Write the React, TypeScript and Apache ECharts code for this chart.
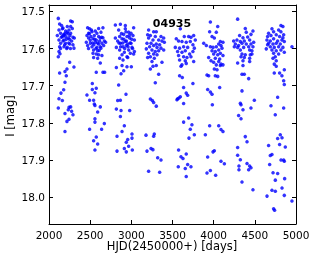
import React, { useEffect, useRef } from "react";
import * as echarts from "echarts";

const xTicks = [2000, 2500, 3000, 3500, 4000, 4500, 5000];
const yTicks = [17.5, 17.6, 17.7, 17.8, 17.9, 18.0];
const starId = "04935";

const season1: [number, number][] = [
  [2113, 17.519], [2263, 17.526], [2283, 17.528], [2129, 17.534], [2153, 17.538], [2222, 17.541], [2263, 17.541],
  [2283, 17.546], [2121, 17.55], [2162, 17.547], [2202, 17.553], [2243, 17.55], [2141, 17.559], [2182, 17.562],
  [2222, 17.556], [2263, 17.559], [2101, 17.565], [2162, 17.568], [2202, 17.568], [2291, 17.57], [2307, 17.572],
  [2121, 17.577], [2182, 17.577], [2234, 17.572], [2275, 17.58], [2141, 17.586], [2202, 17.586], [2251, 17.588],
  [2291, 17.59], [2182, 17.595], [2129, 17.595], [2222, 17.597], [2303, 17.599], [2121, 17.608], [2133, 17.614],
  [2113, 17.622], [2150, 17.57], [2170, 17.58], [2195, 17.56], [2210, 17.575], [2240, 17.585], [2255, 17.565],
  [2170, 17.545], [2230, 17.56], [2190, 17.59], [2260, 17.6], [2140, 17.6], [2215, 17.6], [2175, 17.565], [2250, 17.575],
  [2251, 17.637], [2303, 17.65], [2129, 17.666], [2194, 17.662], [2218, 17.655], [2210, 17.673], [2194, 17.691],
  [2178, 17.711], [2145, 17.72], [2121, 17.735], [2162, 17.74], [2113, 17.76], [2243, 17.758], [2263, 17.757],
  [2234, 17.765], [2275, 17.769], [2194, 17.775], [2291, 17.778], [2243, 17.79], [2218, 17.796], [2194, 17.823],
];

const season2: [number, number][] = [
  [2469, 17.544], [2493, 17.547], [2603, 17.546], [2655, 17.544], [2562, 17.553], [2522, 17.555], [2481, 17.559],
  [2582, 17.559], [2631, 17.556], [2461, 17.565], [2510, 17.568], [2550, 17.565], [2603, 17.568], [2655, 17.571],
  [2481, 17.572], [2534, 17.574], [2574, 17.577], [2623, 17.572], [2672, 17.58], [2453, 17.583], [2502, 17.586],
  [2562, 17.583], [2603, 17.588], [2643, 17.586], [2688, 17.583], [2469, 17.592], [2522, 17.595], [2582, 17.597],
  [2623, 17.595], [2664, 17.592], [2542, 17.604], [2591, 17.606], [2631, 17.599], [2534, 17.613], [2574, 17.615],
  [2603, 17.617], [2643, 17.619], [2542, 17.624], [2591, 17.626], [2623, 17.639], [2490, 17.56], [2530, 17.585],
  [2555, 17.575], [2590, 17.585], [2615, 17.58], [2500, 17.578], [2545, 17.59], [2570, 17.6], [2610, 17.605],
  [2480, 17.6], [2640, 17.57], [2515, 17.55],
  [2574, 17.664], [2655, 17.664], [2676, 17.664], [2526, 17.694], [2574, 17.707], [2526, 17.71], [2558, 17.719],
  [2461, 17.725], [2493, 17.739], [2542, 17.739], [2550, 17.749], [2558, 17.753], [2623, 17.757], [2591, 17.771],
  [2558, 17.789], [2558, 17.798], [2672, 17.802], [2493, 17.817], [2639, 17.817], [2574, 17.838], [2542, 17.848],
  [2591, 17.857], [2558, 17.873],
];

const season3: [number, number][] = [
  [2806, 17.537], [2867, 17.535], [2927, 17.538], [2927, 17.547], [3028, 17.544], [2846, 17.55], [2968, 17.556],
  [2996, 17.559], [2907, 17.562], [2806, 17.572], [2858, 17.568], [2947, 17.568], [3020, 17.565], [2887, 17.574],
  [2980, 17.572], [2834, 17.58], [2927, 17.581], [3037, 17.577], [2867, 17.586], [2956, 17.588], [2996, 17.586],
  [2818, 17.597], [2899, 17.595], [2939, 17.592], [3008, 17.597], [2858, 17.604], [2968, 17.604], [3037, 17.608],
  [2915, 17.61], [2988, 17.613], [3028, 17.615], [2887, 17.617], [2947, 17.622], [2858, 17.626], [2899, 17.631],
  [2956, 17.624], [2880, 17.56], [2910, 17.575], [2940, 17.58], [2960, 17.595], [2985, 17.585], [2870, 17.595],
  [2920, 17.6], [2895, 17.585], [2975, 17.565], [3005, 17.575], [2850, 17.585], [3015, 17.6], [2935, 17.555],
  [2818, 17.651], [2887, 17.646], [2947, 17.649], [3000, 17.649], [2907, 17.66], [2875, 17.668], [2846, 17.698],
  [2935, 17.723], [2834, 17.74], [2867, 17.739], [2818, 17.763], [2875, 17.767], [2980, 17.767], [2867, 17.783],
  [2915, 17.808], [2887, 17.823], [2826, 17.836], [3008, 17.83], [3008, 17.841], [2939, 17.852], [2956, 17.845],
  [2967, 17.863], [2915, 17.869], [3012, 17.873], [2826, 17.876], [2939, 17.878],
];

const season4: [number, number][] = [
  [3210, 17.55], [3271, 17.555], [3303, 17.555], [3198, 17.563], [3231, 17.565], [3291, 17.568], [3360, 17.568],
  [3393, 17.572], [3210, 17.572], [3263, 17.577], [3332, 17.577], [3372, 17.58], [3190, 17.586], [3239, 17.586],
  [3303, 17.588], [3344, 17.59], [3401, 17.583], [3222, 17.595], [3271, 17.592], [3312, 17.597], [3360, 17.599],
  [3182, 17.601], [3251, 17.604], [3291, 17.608], [3332, 17.606], [3393, 17.604], [3210, 17.613], [3271, 17.615],
  [3312, 17.617], [3198, 17.624], [3231, 17.622], [3279, 17.626], [3372, 17.637], [3251, 17.635], [3303, 17.646],
  [3231, 17.655], [3263, 17.648], [3332, 17.669],
  [3291, 17.692], [3231, 17.736], [3255, 17.74], [3271, 17.745], [3303, 17.755], [3178, 17.833], [3279, 17.83],
  [3271, 17.836], [3190, 17.876], [3239, 17.869], [3262, 17.872], [3320, 17.894], [3360, 17.9], [3210, 17.93],
  [3344, 17.933],
];

const season5: [number, number][] = [
  [3595, 17.547], [3643, 17.568], [3696, 17.568], [3724, 17.57], [3757, 17.565], [3777, 17.577], [3546, 17.574],
  [3574, 17.58], [3615, 17.581], [3667, 17.583], [3716, 17.581], [3748, 17.59], [3534, 17.597], [3586, 17.599],
  [3635, 17.595], [3684, 17.597], [3765, 17.599], [3562, 17.608], [3615, 17.61], [3655, 17.606], [3708, 17.615],
  [3748, 17.608], [3574, 17.619], [3635, 17.622], [3676, 17.624], [3724, 17.622], [3586, 17.631], [3655, 17.633],
  [3757, 17.635], [3615, 17.644], [3603, 17.648], [3667, 17.64],
  [3586, 17.673], [3619, 17.678], [3748, 17.694], [3635, 17.705], [3562, 17.735], [3578, 17.733], [3595, 17.73],
  [3554, 17.738], [3667, 17.72], [3684, 17.726], [3635, 17.748], [3696, 17.787], [3635, 17.798], [3736, 17.805],
  [3716, 17.817], [3765, 17.832], [3700, 17.841], [3574, 17.873], [3667, 17.884], [3603, 17.891], [3627, 17.896],
  [3570, 17.918], [3684, 17.912], [3724, 17.918], [3655, 17.923], [3667, 17.944],
];

const season6: [number, number][] = [
  [3960, 17.529], [4049, 17.541], [3951, 17.555], [4032, 17.556], [3980, 17.568], [4008, 17.572], [3879, 17.586],
  [3911, 17.592], [4081, 17.581], [4113, 17.583], [4061, 17.588], [4089, 17.592], [3960, 17.595], [3992, 17.597],
  [4032, 17.595], [3980, 17.606], [4020, 17.608], [4061, 17.604], [4101, 17.599], [4000, 17.615], [4049, 17.617],
  [4081, 17.613], [4113, 17.619], [3939, 17.624], [4020, 17.626], [4073, 17.628], [3968, 17.633], [4000, 17.637],
  [4061, 17.635], [4089, 17.642], [4032, 17.644], [4008, 17.655], [4041, 17.657], [3919, 17.671], [3939, 17.673],
  [4020, 17.673], [4049, 17.675], [4081, 17.646], [4113, 17.644],
  [3927, 17.71], [3960, 17.717], [3980, 17.723], [4073, 17.705], [3984, 17.751], [3951, 17.808], [4061, 17.808],
  [4089, 17.818], [4113, 17.823], [3899, 17.832], [3992, 17.878], [4008, 17.875], [3927, 17.892], [4089, 17.903],
  [4130, 17.91], [3960, 17.928], [3919, 17.935], [4024, 17.941],
];

const season7: [number, number][] = [
  [4291, 17.521], [4384, 17.546], [4477, 17.553], [4396, 17.556], [4453, 17.562], [4315, 17.565], [4356, 17.571],
  [4413, 17.569], [4243, 17.58], [4283, 17.577], [4324, 17.581], [4372, 17.58], [4437, 17.577], [4486, 17.583],
  [4263, 17.588], [4303, 17.592], [4344, 17.586], [4396, 17.588], [4453, 17.588], [4251, 17.595], [4291, 17.597],
  [4364, 17.597], [4425, 17.595], [4477, 17.595], [4324, 17.604], [4437, 17.604], [4465, 17.606], [4344, 17.615],
  [4384, 17.617], [4445, 17.617], [4332, 17.622], [4372, 17.624], [4437, 17.626], [4356, 17.633], [4437, 17.635],
  [4291, 17.639], [4356, 17.646], [4465, 17.615],
  [4344, 17.669], [4372, 17.669], [4425, 17.681], [4344, 17.714], [4324, 17.747], [4332, 17.751], [4494, 17.739],
  [4453, 17.76], [4356, 17.765], [4303, 17.78], [4332, 17.789], [4384, 17.837], [4405, 17.851], [4291, 17.866],
  [4291, 17.887], [4324, 17.899], [4405, 17.909], [4437, 17.916], [4453, 17.921], [4425, 17.926], [4307, 17.916],
  [4307, 17.926], [4344, 17.959], [4477, 17.98],
];

const season8: [number, number][] = [
  [4817, 17.538], [4841, 17.541], [4708, 17.547], [4789, 17.55], [4667, 17.559], [4728, 17.555], [4817, 17.555],
  [4850, 17.563], [4655, 17.568], [4696, 17.565], [4760, 17.563], [4801, 17.568], [4841, 17.571], [4647, 17.577],
  [4688, 17.58], [4728, 17.574], [4777, 17.58], [4829, 17.577], [4858, 17.581], [4667, 17.586], [4720, 17.588],
  [4760, 17.586], [4809, 17.588], [4639, 17.601], [4688, 17.595], [4736, 17.597], [4789, 17.595], [4841, 17.597],
  [4655, 17.59], [4708, 17.604], [4760, 17.606], [4817, 17.604], [4858, 17.61], [4728, 17.613], [4789, 17.615],
  [4748, 17.622], [4720, 17.626], [4760, 17.633], [4736, 17.642], [4760, 17.648], [4858, 17.657], [4736, 17.666],
  [4801, 17.666], [4829, 17.673], [4850, 17.687], [4858, 17.697], [4951, 17.595],
  [4777, 17.731], [4696, 17.754], [4850, 17.76], [4748, 17.778], [4809, 17.832], [4830, 17.84], [4777, 17.842],
  [4801, 17.858], [4870, 17.865], [4667, 17.861], [4688, 17.888], [4708, 17.885], [4680, 17.912], [4818, 17.9],
  [4850, 17.9], [4858, 17.903], [4721, 17.934], [4777, 17.936], [4749, 17.954], [4862, 17.95], [4830, 17.975],
  [4708, 17.981], [4749, 17.984], [4648, 17.997], [4858, 17.995], [4951, 18.01], [4728, 18.031], [4740, 18.035],
];

const FONT = "DejaVu Sans";

export default function App() {
  const ref = useRef<HTMLDivElement>(null);
  useEffect(() => {
    if (!ref.current) return;
    const chart = echarts.init(ref.current, null, { renderer: "svg" });
    const data = [...season1, ...season2, ...season3, ...season4, ...season5, ...season6, ...season7, ...season8];
    const axisLine = { show: true, onZero: false, lineStyle: { color: "#000", width: 1 } };
    const tick = { inside: true, length: 4, lineStyle: { color: "#000", width: 1 } };
    const label = { color: "#000", fontSize: 10.5, fontFamily: FONT };
    chart.setOption({
      animation: false,
      grid: { left: 49, top: 5, right: 20, bottom: 35 },
      xAxis: [
        {
          type: "value", min: xTicks[0], max: xTicks[xTicks.length - 1], interval: 500, position: "bottom",
          axisLine, axisTick: tick,
          axisLabel: { ...label, margin: 5, formatter: (v: number) => String(v) },
          splitLine: { show: false },
        },
        {
          type: "value", min: xTicks[0], max: xTicks[xTicks.length - 1], interval: 500, position: "top",
          axisLine, axisTick: tick, axisLabel: { show: false }, splitLine: { show: false },
        },
      ],
      yAxis: [
        {
          type: "value", inverse: true, min: 17.483, max: 18.072, position: "left",
          axisLine, axisTick: { ...tick, customValues: yTicks },
          axisLabel: { ...label, margin: 4, customValues: yTicks, formatter: (v: number) => v.toFixed(1) },
          splitLine: { show: false },
        },
        {
          type: "value", inverse: true, min: 17.483, max: 18.072, position: "right",
          axisLine, axisTick: { ...tick, customValues: yTicks },
          axisLabel: { show: false, customValues: yTicks }, splitLine: { show: false },
        },
      ],
      series: [
        {
          type: "scatter", xAxisIndex: 0, yAxisIndex: 0, data, symbolSize: 3.5,
          itemStyle: { color: "#0000ff" },
        },
      ],
      graphic: [
        {
          type: "text", x: 172, y: 23,
          style: { text: starId, font: `bold 11px "${FONT}"`, fill: "#000", textAlign: "center", textVerticalAlign: "middle" },
        },
        {
          type: "text", x: 172, y: 246,
          style: { text: "HJD(2450000+) [days]", font: `11.5px "${FONT}"`, fill: "#000", textAlign: "center", textVerticalAlign: "middle" },
        },
        {
          type: "text", x: 10, y: 116, rotation: Math.PI / 2,
          style: { text: "I [mag]", font: `11.5px "${FONT}"`, fill: "#000", textAlign: "center", textVerticalAlign: "middle" },
        },
      ],
    });
    return () => chart.dispose();
  }, []);
  return <div ref={ref} style={{ position: "fixed", left: 0, top: 0, width: 316, height: 259 }} />;
}
